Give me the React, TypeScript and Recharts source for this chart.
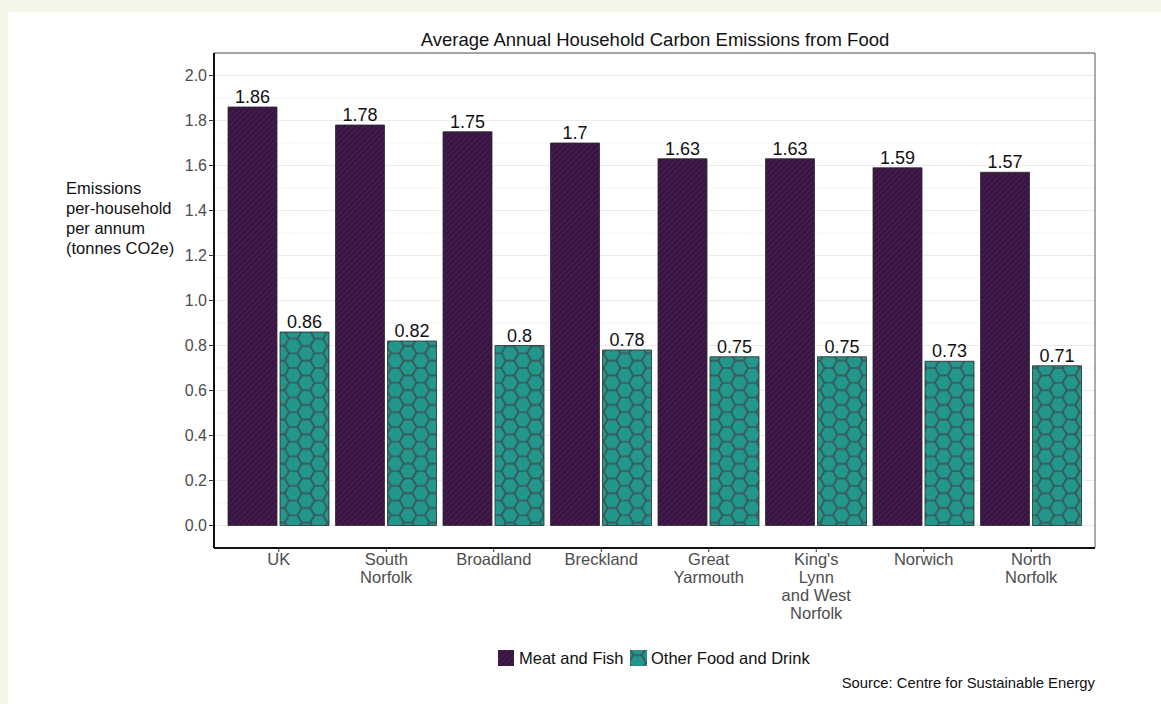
import React from "react";
import { BarChart, Bar, XAxis, YAxis, CartesianGrid, LabelList } from "recharts";

document.body.style.margin = "0";
document.body.style.background = "#f4f7e8";

const categories = [
  "UK",
  "South Norfolk",
  "Broadland",
  "Breckland",
  "Great Yarmouth",
  "King's Lynn and West Norfolk",
  "Norwich",
  "North Norfolk",
];
const tickLabelLines = [
  ["UK"],
  ["South", "Norfolk"],
  ["Broadland"],
  ["Breckland"],
  ["Great", "Yarmouth"],
  ["King's", "Lynn", "and West", "Norfolk"],
  ["Norwich"],
  ["North", "Norfolk"],
];
const meatAndFish = [1.86, 1.78, 1.75, 1.7, 1.63, 1.63, 1.59, 1.57];
const otherFoodAndDrink = [0.86, 0.82, 0.8, 0.78, 0.75, 0.75, 0.73, 0.71];
const yTicks = [0, 0.2, 0.4, 0.6, 0.8, 1.0, 1.2, 1.4, 1.6, 1.8, 2.0];
const minorGrid = [0.1, 0.3, 0.5, 0.7, 0.9, 1.1, 1.3, 1.5, 1.7, 1.9];
const yTitleLines = ["Emissions", "per-household", "per annum", "(tonnes CO2e)"];
const seriesNames = ["Meat and Fish", "Other Food and Drink"];

const data = categories.map((c, i) => ({
  category: c,
  meat: meatAndFish[i],
  other: otherFoodAndDrink[i],
}));

const FONT = "'Liberation Sans', Arial, Helvetica, sans-serif";
const PURPLE = "#451a51";
const PURPLE_STRIPE = "#2e1136";
const TEAL = "#23978b";
const HEX_LINE = "#37595a";

const R = 8.5;
const H = 2 * R * Math.sin(Math.PI / 3);
const hexPoints = (cx: number, cy: number) =>
  [
    [cx - R, cy],
    [cx - R / 2, cy - H / 2],
    [cx + R / 2, cy - H / 2],
    [cx + R, cy],
    [cx + R / 2, cy + H / 2],
    [cx - R / 2, cy + H / 2],
  ]
    .map((p) => p.join(","))
    .join(" ");

const Patterns = ({ prefix }: { prefix: string }) => (
  <defs>
    <pattern
      id={`${prefix}stripe`}
      patternUnits="userSpaceOnUse"
      width={4}
      height={4}
      patternTransform="rotate(45)"
    >
      <rect width={4} height={4} fill={PURPLE} />
      <line x1={1} y1={0} x2={1} y2={4} stroke={PURPLE_STRIPE} strokeWidth={1.4} />
    </pattern>
    <pattern
      id={`${prefix}hex`}
      patternUnits="userSpaceOnUse"
      width={3 * R}
      height={H}
    >
      <rect width={3 * R} height={H} fill={TEAL} />
      {[
        [0, 0],
        [0, H],
        [3 * R, 0],
        [3 * R, H],
        [1.5 * R, H / 2],
      ].map(([cx, cy], i) => (
        <polygon
          key={i}
          points={hexPoints(cx, cy)}
          fill="none"
          stroke={HEX_LINE}
          strokeWidth={1.5}
        />
      ))}
    </pattern>
  </defs>
);

const XTick = (props: any) => {
  const { x, payload } = props;
  const idx = categories.indexOf(payload.value);
  const lines = tickLabelLines[idx] || [payload.value];
  return (
    <text textAnchor="middle" fill="#4d4d4d" fontSize={16.5} fontFamily={FONT}>
      {lines.map((l, i) => (
        <tspan key={i} x={x} y={565 + i * 18}>
          {l}
        </tspan>
      ))}
    </text>
  );
};

export default function App() {
  return (
    <div style={{ position: "relative", width: 1161, height: 704, background: "#f4f7e8", overflow: "hidden" }}>
      <div style={{ position: "absolute", left: 8, top: 12, width: 1153, height: 692, background: "#ffffff" }} />
      <div style={{ position: "absolute", left: 0, top: 0 }}>
        <BarChart
          width={1161}
          height={704}
          data={data}
          margin={{ top: 52, right: 65, bottom: 86, left: 154 }}
          barSize={49}
          barGap={3}
        >
          <Patterns prefix="c-" />
          <CartesianGrid horizontalValues={minorGrid} vertical={false} stroke="#f2f2f2" strokeWidth={1} />
          <CartesianGrid vertical={false} stroke="#ebebeb" strokeWidth={1} />
          <XAxis
            dataKey="category"
            height={70}
            padding={{ left: 11, right: 10 }}
            axisLine={{ stroke: "#111", strokeWidth: 2 }}
            tickLine={{ stroke: "#333" }}
            tickSize={4}
            tick={<XTick />}
            interval={0}
          />
          <XAxis
            xAxisId="top"
            dataKey="category"
            orientation="top"
            height={1}
            padding={{ left: 11, right: 10 }}
            axisLine={{ stroke: "#555", strokeWidth: 1 }}
            tick={false}
            tickLine={false}
          />
          <YAxis
            width={60}
            domain={[-0.1, 2.1]}
            ticks={yTicks}
            allowDataOverflow
            tickFormatter={(v: number) => v.toFixed(1)}
            axisLine={{ stroke: "#111", strokeWidth: 2 }}
            tickLine={{ stroke: "#333" }}
            tickSize={5}
            tickMargin={2}
            tick={{ fill: "#4d4d4d", fontSize: 16, fontFamily: FONT }}
          />
          <YAxis
            yAxisId="right"
            orientation="right"
            width={1}
            domain={[-0.1, 2.1]}
            axisLine={{ stroke: "#555", strokeWidth: 1 }}
            tick={false}
            tickLine={false}
          />
          <Bar dataKey="meat" name={seriesNames[0]} fill="url(#c-stripe)" stroke="#2a2a2a" strokeWidth={0.8} isAnimationActive={false}>
            <LabelList dataKey="meat" position="top" offset={4} fill="#111" fontSize={18} fontFamily={FONT} />
          </Bar>
          <Bar dataKey="other" name={seriesNames[1]} fill="url(#c-hex)" stroke="#2a2a2a" strokeWidth={0.8} isAnimationActive={false}>
            <LabelList dataKey="other" position="top" offset={4} fill="#111" fontSize={18} fontFamily={FONT} />
          </Bar>
        </BarChart>
      </div>
      <svg
        width={1161}
        height={704}
        style={{ position: "absolute", left: 0, top: 0, pointerEvents: "none" }}
        fontFamily={FONT}
      >
        <Patterns prefix="l-" />
        <text x={655} y={46} textAnchor="middle" fontSize={18.5} fill="#111">
          Average Annual Household Carbon Emissions from Food
        </text>
        <text fontSize={16.5} fill="#111">
          {yTitleLines.map((l, i) => (
            <tspan key={i} x={66} y={194 + i * 20}>
              {l}
            </tspan>
          ))}
        </text>
        <rect x={498} y={650} width={16} height={16} fill="url(#l-stripe)" />
        <text x={519} y={664} fontSize={16.5} fill="#111">
          {seriesNames[0]}
        </text>
        <rect x={630} y={650} width={17} height={16} fill="url(#l-hex)" />
        <text x={651} y={664} fontSize={16.5} fill="#111">
          {seriesNames[1]}
        </text>
        <text x={1095} y={688} textAnchor="end" fontSize={14.8} fill="#111">
          Source: Centre for Sustainable Energy
        </text>
      </svg>
    </div>
  );
}
